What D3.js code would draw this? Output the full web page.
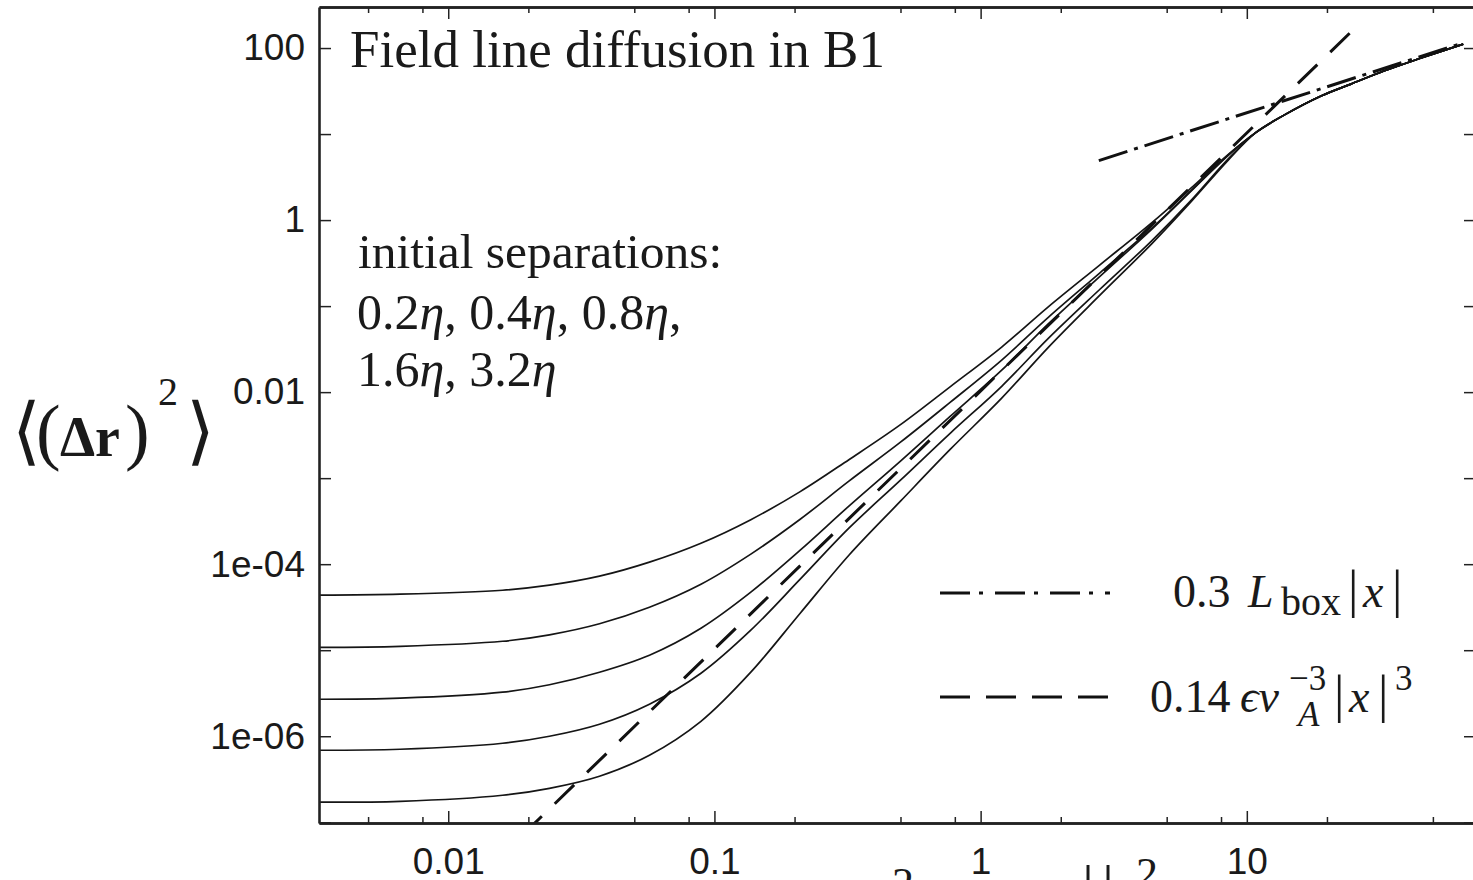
<!DOCTYPE html>
<html lang="en">
<head>
<meta charset="UTF-8">
<title>Field line diffusion in B1</title>
<script src="https://cdn.jsdelivr.net/npm/d3@7"></script>
<style>
    body { margin: 0; background: #fff; }
    svg { display: block; }
    .serif { font-family: "Liberation Serif", "Times New Roman", serif; fill: #1a1a1a; }
</style>
</head>
<body>
<svg id="chart" width="1473" height="880"></svg>
<script>
// tick values / labels
const xMajorTicks = [0.01, 0.1, 1, 10];
const xMajorLabels = ["0.01", "0.1", "1", "10"];
const xMinorTicks = [0.005, 0.008, 0.02, 0.05, 0.08, 0.2, 0.5, 0.8, 2, 5, 8, 20, 50];
const yTicks = [1e-7, 1e-6, 1e-5, 1e-4, 1e-3, 1e-2, 1e-1, 1, 10, 100];
const yLabelValues = [100, 1, 0.01, 1e-4, 1e-6];
const yLabelTexts = ["100", "1", "0.01", "1e-04", "1e-06"];

// sample positions along the curves
const xs = [0.0033, 0.0066, 0.016, 0.024, 0.037, 0.057, 0.089, 0.137, 0.21, 0.32, 0.5,
            0.77, 1.2, 1.8, 2.8, 4.4, 6.2, 8.5];
// the five separations, largest (3.2 eta) first
const sep32 = [4.36e-5, 4.48e-5, 4.98e-5, 5.70e-5, 7.25e-5, 1.055e-4, 1.75e-4, 3.29e-4, 6.97e-4, 1.64e-3, 4.19e-3,
               1.16e-2, 3.34e-2, 9.87e-2, 0.300, 0.935, 2.38, 5.78];
const sep16 = [1.08e-5, 1.11e-5, 1.27e-5, 1.51e-5, 2.03e-5, 3.16e-5, 5.85e-5, 1.31e-4, 3.33e-4, 9.23e-4, 2.62e-3,
               7.65e-3, 2.36e-2, 7.45e-2, 0.242, 0.807, 2.23, 5.70];
const sep08 = [2.69e-6, 2.77e-6, 3.25e-6, 3.97e-6, 5.55e-6, 8.75e-6, 1.80e-5, 4.73e-5, 1.455e-4, 4.73e-4, 1.58e-3,
               5.26e-3, 1.80e-2, 6.26e-2, 0.220, 0.786, 2.20, 5.62];
const sep04 = [6.87e-7, 7.06e-7, 8.29e-7, 1.0e-6, 1.38e-6, 2.36e-6, 5.40e-6, 1.71e-5, 6.69e-5, 2.62e-4, 9.48e-4,
               3.34e-3, 1.17e-2, 4.24e-2, 0.156, 0.578, 1.72, 5.12];
const sep02 = [1.71e-7, 1.75e-7, 2.06e-7, 2.48e-7, 3.43e-7, 6.01e-7, 1.49e-6, 5.55e-6, 2.69e-5, 1.27e-4, 5.40e-4,
               2.17e-3, 8.51e-3, 3.34e-2, 0.133, 0.533, 1.66, 4.95];
// all curves collapse onto one past x ~ 8.5
const tailX = [10.8, 13.8, 19, 24.6, 32.7, 44, 65];
const tailY = [10.4, 16.6, 27.7, 38.1, 54.0, 74.5, 111];

// fitted power laws, drawn as straight segments in log-log
const cubicX = [0.019, 26.6];
const cubicY = [7.1e-8, 194];
const linearX = [2.78, 65];
const linearY = [4.92, 115];

const svg = d3.select("#chart");
const plotLeft = 319, plotRight = 1476, plotTop = 7, plotBottom = 823;

const x = d3.scaleLog().domain([0.00327, 72.6]).range([plotLeft, plotRight]);
const y = d3.scaleLog().domain([9.8e-8, 300]).range([plotBottom, plotTop]);

svg.append("clipPath").attr("id", "plotArea")
    .append("rect")
    .attr("x", plotLeft).attr("y", plotTop)
    .attr("width", plotRight - plotLeft).attr("height", plotBottom - plotTop);

const plot = svg.append("g").attr("clip-path", "url(#plotArea)");

const line = d3.line()
    .x(d => x(d[0]))
    .y(d => y(d[1]))
    .curve(d3.curveCatmullRom.alpha(0.5));

[sep32, sep16, sep08, sep04, sep02].forEach(vals => {
    const pts = xs.map((v, i) => [v, vals[i]]).concat(tailX.map((v, i) => [v, tailY[i]]));
    plot.append("path")
        .attr("d", line(pts))
        .attr("fill", "none")
        .attr("stroke", "#151515")
        .attr("stroke-width", 1.7);
});

const straight = d3.line().x(d => x(d[0])).y(d => y(d[1]));

plot.append("path")
    .attr("d", straight(cubicX.map((v, i) => [v, cubicY[i]])))
    .attr("fill", "none")
    .attr("stroke", "#111")
    .attr("stroke-width", 3)
    .attr("stroke-dasharray", "27,18");

plot.append("path")
    .attr("d", straight(linearX.map((v, i) => [v, linearY[i]])))
    .attr("fill", "none")
    .attr("stroke", "#111")
    .attr("stroke-width", 3)
    .attr("stroke-dasharray", "30,7,4,7");

// axes: frame with inward ticks on all four sides
function styleAxis(g) {
    g.select(".domain").attr("stroke", "#222").attr("stroke-width", 2.6);
    g.selectAll(".tick line").attr("stroke", "#222").attr("stroke-width", 1.5);
    g.selectAll("text")
        .attr("font-family", "'Liberation Sans', Arial, sans-serif")
        .attr("font-size", 37)
        .attr("fill", "#1a1a1a");
}

svg.append("g")
    .attr("transform", `translate(0,${plotBottom})`)
    .call(d3.axisBottom(x).tickValues(xMinorTicks).tickSize(-6).tickSizeOuter(0).tickFormat(""))
    .call(styleAxis);

svg.append("g")
    .attr("transform", `translate(0,${plotBottom})`)
    .call(d3.axisBottom(x).tickValues(xMajorTicks).tickSize(-12).tickSizeOuter(0)
        .tickPadding(25)
        .tickFormat((d, i) => xMajorLabels[i]))
    .call(styleAxis);

svg.append("g")
    .attr("transform", `translate(0,${plotTop})`)
    .call(d3.axisTop(x).tickValues(xMinorTicks).tickSize(-6).tickSizeOuter(0).tickFormat(""))
    .call(styleAxis);

svg.append("g")
    .attr("transform", `translate(0,${plotTop})`)
    .call(d3.axisTop(x).tickValues(xMajorTicks).tickSize(-12).tickSizeOuter(0).tickFormat(""))
    .call(styleAxis);

svg.append("g")
    .attr("transform", `translate(${plotLeft},0)`)
    .call(d3.axisLeft(y).tickValues(yTicks).tickSize(-12).tickSizeOuter(0)
        .tickPadding(14)
        .tickFormat(d => {
            const k = yLabelValues.findIndex(v => Math.abs(Math.log10(v) - Math.log10(d)) < 1e-6);
            return k >= 0 ? yLabelTexts[k] : "";
        }))
    .call(styleAxis);

svg.append("g")
    .attr("transform", `translate(${plotRight},0)`)
    .call(d3.axisRight(y).tickValues(yTicks).tickSize(-12).tickSizeOuter(0).tickFormat(""))
    .call(styleAxis);

// annotations
svg.append("text").attr("class", "serif")
    .attr("x", 350).attr("y", 67)
    .attr("font-size", 53)
    .text("Field line diffusion in B1");

svg.append("text").attr("class", "serif")
    .attr("x", 358).attr("y", 268)
    .attr("font-size", 49.5)
    .text("initial separations:");

function etaLine(yPos, parts) {
    const t = svg.append("text").attr("class", "serif")
        .attr("x", 357).attr("y", yPos)
        .attr("font-size", 50);
    parts.forEach((p, i) => {
        t.append("tspan").text(p);
        t.append("tspan").attr("font-style", "italic").text("η");
        if (i < parts.length - 1) t.append("tspan").text(", ");
    });
    return t;
}
etaLine(329, ["0.2", "0.4", "0.8"]).append("tspan").text(",");
etaLine(386, ["1.6", "3.2"]);

// y axis label
const yLab = svg.append("text").attr("class", "serif").attr("y", 456);
yLab.append("tspan").attr("x", 12).attr("font-size", 74).text("⟨");
yLab.append("tspan").attr("x", 36).attr("font-size", 74).text("(");
yLab.append("tspan").attr("x", 60).attr("font-size", 56).attr("font-weight", "bold").text("Δr");
yLab.append("tspan").attr("x", 125).attr("font-size", 74).text(")");
yLab.append("tspan").attr("x", 158).attr("dy", -51).attr("font-size", 40).text("2");
yLab.append("tspan").attr("x", 186).attr("dy", 51).attr("font-size", 74).text("⟩");

// x axis label, only the top of it is inside the picture
const xLab = svg.append("text").attr("class", "serif").attr("y", 906).attr("font-size", 46);
xLab.append("tspan").attr("x", 892).attr("dy", -8).attr("font-size", 44).text("2");
xLab.append("tspan").attr("x", 1082).attr("dy", 8).attr("font-size", 60).text("|");
xLab.append("tspan").attr("x", 1088).attr("font-style", "italic").attr("font-size", 30).text("x");
xLab.append("tspan").attr("x", 1102).attr("font-size", 60).text("|");
xLab.append("tspan").attr("x", 1136).attr("dy", -18).attr("font-size", 44).text("2");

// legend
const legend = svg.append("g");
legend.append("line")
    .attr("x1", 940).attr("x2", 1110).attr("y1", 593).attr("y2", 593)
    .attr("stroke", "#111").attr("stroke-width", 3)
    .attr("stroke-dasharray", "30,9,4,12");
legend.append("line")
    .attr("x1", 940).attr("x2", 1110).attr("y1", 697).attr("y2", 697)
    .attr("stroke", "#111").attr("stroke-width", 3)
    .attr("stroke-dasharray", "30,16");

const lin = legend.append("text").attr("class", "serif")
    .attr("y", 607).attr("font-size", 46);
lin.append("tspan").attr("x", 1173).text("0.3");
lin.append("tspan").attr("x", 1248).attr("font-style", "italic").text("L");
lin.append("tspan").attr("x", 1281).attr("dy", 8).attr("font-size", 40).text("box");
lin.append("tspan").attr("x", 1348).attr("dy", -8).attr("font-size", 52).text("|");
lin.append("tspan").attr("x", 1363).attr("font-style", "italic").text("x");
lin.append("tspan").attr("x", 1392).attr("font-size", 52).text("|");

const cub = legend.append("text").attr("class", "serif")
    .attr("y", 712).attr("font-size", 46);
cub.append("tspan").attr("x", 1150).text("0.14");
cub.append("tspan").attr("x", 1240).attr("font-style", "italic").text("ϵv");
cub.append("tspan").attr("x", 1289).attr("dy", -22).attr("font-size", 35).text("−3");
cub.append("tspan").attr("x", 1298).attr("dy", 36).attr("font-size", 35).attr("font-style", "italic").text("A");
cub.append("tspan").attr("x", 1334).attr("dy", -14).attr("font-size", 52).text("|");
cub.append("tspan").attr("x", 1349).attr("font-style", "italic").text("x");
cub.append("tspan").attr("x", 1378).attr("font-size", 52).text("|");
cub.append("tspan").attr("x", 1395).attr("dy", -22).attr("font-size", 35).text("3");
</script>
</body>
</html>
